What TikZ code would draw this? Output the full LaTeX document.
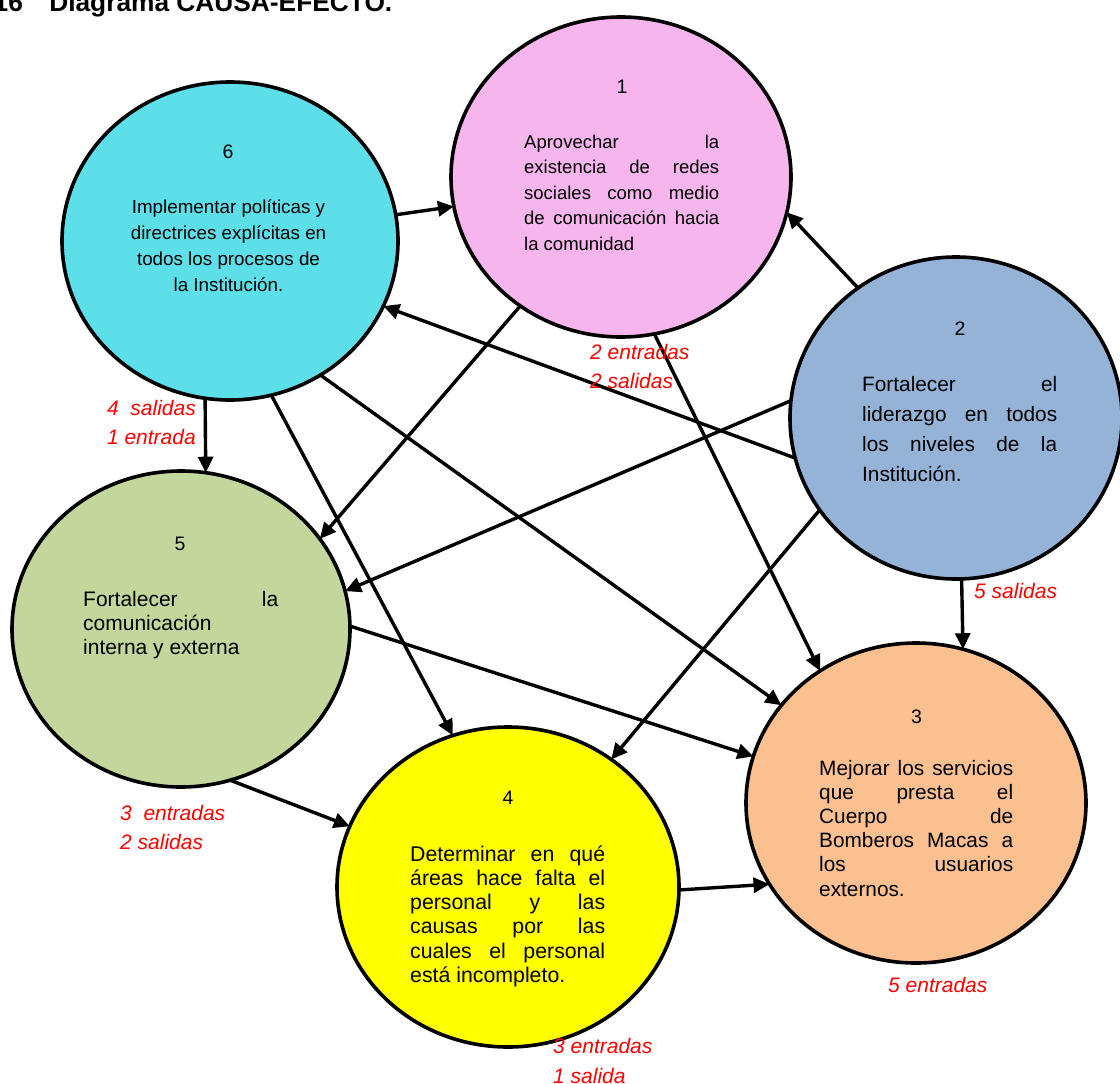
\documentclass[tikz,border=0pt]{standalone}
\usepackage{fontspec}
\setmainfont{Liberation Sans}
\usetikzlibrary{shapes.geometric,arrows.meta}
\definecolor{cpink}{HTML}{F6B5EC}
\definecolor{ccyan}{HTML}{5DDFEA}
\definecolor{cblue}{HTML}{95B3D7}
\definecolor{cgreen}{HTML}{C3D69B}
\definecolor{corange}{HTML}{FAC090}
\definecolor{cyellow}{HTML}{FFFF00}
\definecolor{cred}{HTML}{FF0000}
\newcommand{\jl}[1]{\makebox[\linewidth][s]{#1}\\}
\begin{document}
\begin{tikzpicture}[x=1pt,y=-1pt,
  circ/.style={draw=black, line width=3.6pt, ellipse, inner sep=0pt, outer sep=0pt},
  link/.style={line width=3.4pt, -{Triangle[length=16pt,width=15pt]}},
  num/.style={anchor=base, inner sep=0pt, font=\fontsize{19.5}{23}\selectfont},
  body/.style={anchor=base west, inner sep=0pt},
  lab/.style={text=cred, inner sep=0pt, font=\fontsize{21}{25}\selectfont\itshape}]
\useasboundingbox (0,0) rectangle (1120,1084);
% title (cut at the top edge)
\node[anchor=base west, inner sep=0pt, font=\fontsize{26.3}{30}\selectfont\bfseries] (title) at (-6.5,12) {16\hspace{26.4pt}Diagrama CAUSA-EFECTO.};
% circles
\node[circ, fill=cpink,   minimum width=340pt, minimum height=320pt] (c1) at (621,177) {};
\node[circ, fill=ccyan,   minimum width=336pt, minimum height=318pt] (c6) at (230,241) {};
\node[circ, fill=cblue,   minimum width=332pt, minimum height=322pt] (c2) at (956,418) {};
\node[circ, fill=cgreen,  minimum width=338pt, minimum height=316pt] (c5) at (181,629) {};
\node[circ, fill=corange, minimum width=340pt, minimum height=320pt] (c3) at (916,803) {};
\node[circ, fill=cyellow, minimum width=342pt, minimum height=320pt] (c4) at (508,887) {};
% connectors
\draw[link] (c6.9) -- (c1.190);
\draw[link] (c2.127) -- (c1.348);
\draw[link] (c2.194) -- (c6.337);
\draw[link] (c1.232) -- (c5.33);
\draw[link] (c2.174) -- (c5.13);
\draw[link] (c2.214) -- (c4.51);
\draw[link] (c2.272) -- (c3.73);
\draw[link] (c1.282) -- (c3.126);
\draw[link] (c6.304) -- (c3.144);
\draw[link] (c6.285) -- (c4.110);
\draw[link] (c5.1) -- (c3.164);
\draw[link] (c5.288) -- (c4.159);
\draw[link] (c4.359) -- (c3.209);
\draw[link] (c6.261) -- (c5.81);
% numbers
\node[num] (n1) at (622,93) {1};
\node[num] (n6) at (228,158) {6};
\node[num] (n2) at (960,335) {2};
\node[num] (n5) at (180,550) {5};
\node[num] (n3) at (916.5,723) {3};
\node[num] (n4) at (508,804) {4};
% texts
\node[body] (t1) at (524,148) {\parbox[t]{195pt}{\fontsize{18.5}{25.5}\selectfont
  \jl{Aprovechar la}\jl{existencia de redes}\jl{sociales como medio}\jl{de comunicación hacia}la comunidad}};
\node[anchor=base, inner sep=0pt] (t6) at (228.5,213) {\parbox[t]{240pt}{\centering\fontsize{18.8}{26}\selectfont
  Implementar políticas y\\directrices explícitas en\\todos los procesos de\\la Institución.}};
\node[body] (t2) at (862,391) {\parbox[t]{195pt}{\fontsize{20.8}{30}\selectfont
  \jl{Fortalecer el}\jl{liderazgo en todos}\jl{los niveles de la}Institución.}};
\node[body] (t5) at (83,606) {\parbox[t]{195pt}{\fontsize{21}{24.2}\selectfont
  \jl{Fortalecer la}comunicación\\interna y externa}};
\node[body] (t3) at (819,775) {\parbox[t]{194pt}{\fontsize{20.8}{24.2}\selectfont
  \jl{Mejorar los servicios}\jl{que presta el}\jl{Cuerpo de}\jl{Bomberos Macas a}\jl{los usuarios}externos.}};
\node[body] (t4) at (410,861) {\parbox[t]{195pt}{\fontsize{21.3}{24.3}\selectfont
  \jl{Determinar en qué}\jl{áreas hace falta el}\jl{personal y las}\jl{causas por las}\jl{cuales el personal}está incompleto.}};
% red labels
\node[lab, anchor=base east] (l6a) at (196,415) {4\ \ salidas};
\node[lab, anchor=base east] (l6b) at (196,444) {1 entrada};
\node[lab, anchor=base west] (l1a) at (590,359) {2 entradas};
\node[lab, anchor=base west] (l1b) at (590,388) {2 salidas};
\node[lab, anchor=base west] (l2) at (974,598) {5 salidas};
\node[lab, anchor=base west] (l5a) at (120,820) {3\ \ entradas};
\node[lab, anchor=base west] (l5b) at (120,849) {2 salidas};
\node[lab, anchor=base west] (l3) at (888,992) {5 entradas};
\node[lab, anchor=base west] (l4a) at (553,1053) {3 entradas};
\node[lab, anchor=base west] (l4b) at (553,1083) {1 salida};
\end{tikzpicture}
\end{document}
